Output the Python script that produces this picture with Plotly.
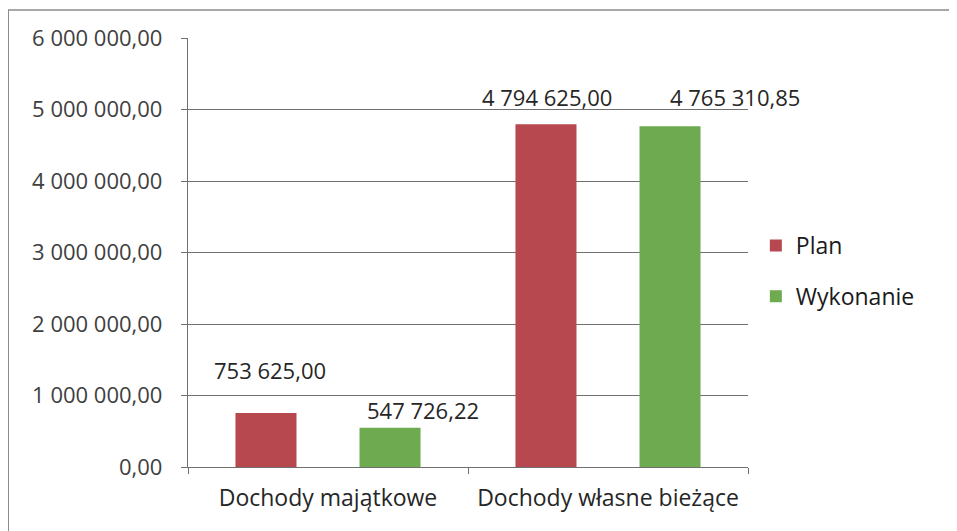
import plotly.graph_objects as go

# data
categories = ["Dochody majątkowe", "Dochody własne bieżące"]
plan = [753625.00, 4794625.00]
wykonanie = [547726.22, 4765310.85]
series_names = ["Plan", "Wykonanie"]
y_ticks = [0, 1000000, 2000000, 3000000, 4000000, 5000000, 6000000]

RED = "#B74850"
GREEN = "#6EAA50"
FONT = "Open Sans"


def fmt(v):
    s = f"{v:,.2f}"
    return s.replace(",", " ").replace(".", ",")


fig = go.Figure()
for name, vals, col in [(series_names[0], plan, RED), (series_names[1], wykonanie, GREEN)]:
    fig.add_trace(go.Bar(
        x=categories, y=vals, name=name, marker_color=col,
        marker_line_width=0, legendgroup=name, hoverinfo="skip"
    ))

# data labels, placed roughly where excel put them
label_shift = {
    (0, 0): (-58, 43), (0, 1): (-61, 27),
    (1, 0): (95, 18), (1, 1): (127, 29),
}
annotations = []
for si, vals in enumerate([plan, wykonanie]):
    for ci, v in enumerate(vals):
        dx, dy = label_shift[(si, ci)]
        annotations.append(dict(
            x=categories[ci], y=v, text=fmt(v), showarrow=False,
            xshift=dx, yshift=dy, yanchor="middle",
            font=dict(family=FONT, size=22, color="#262626")
        ))

# page body has an 8px margin, so the figure is a bit smaller than the window
fig.update_layout(
    width=949, height=523,
    margin=dict(l=180, r=209, t=30, b=64),
    paper_bgcolor="white", plot_bgcolor="white",
    barmode="group", bargap=0.114, bargroupgap=0.508,
    separators=", ",
    font=dict(family=FONT, size=22, color="#404040"),
    showlegend=True,
    legend=dict(x=1.014, y=0.457, xanchor="left", yanchor="middle",
                font=dict(family=FONT, size=23, color="#1a1a1a"),
                tracegroupgap=18, itemwidth=30),
    annotations=annotations,
    shapes=[dict(type="rect", xref="paper", yref="paper",
                 x0=-0.321, x1=1.5, y0=-0.3, y1=1.065,
                 line=dict(color="#8c8c8c", width=1.5))],
)
fig.update_yaxes(
    range=[0, 6000000], tickvals=y_ticks, tickformat=",.2f",
    showgrid=True, gridcolor="#707070", gridwidth=1.3,
    showline=True, linecolor="#707070", linewidth=1.3,
    ticks="outside", ticklen=6, tickcolor="#707070",
    zeroline=False, ticklabelstandoff=14,
)
fig.update_xaxes(
    range=[-0.5, 1.5],
    showline=True, linecolor="#707070", linewidth=1.3,
    ticks="outside", ticklen=6, tickcolor="#707070",
    tickson="boundaries", ticklabelstandoff=10,
    tickfont=dict(size=23, color="#262626"),
)

fig.write_html("out.html")
